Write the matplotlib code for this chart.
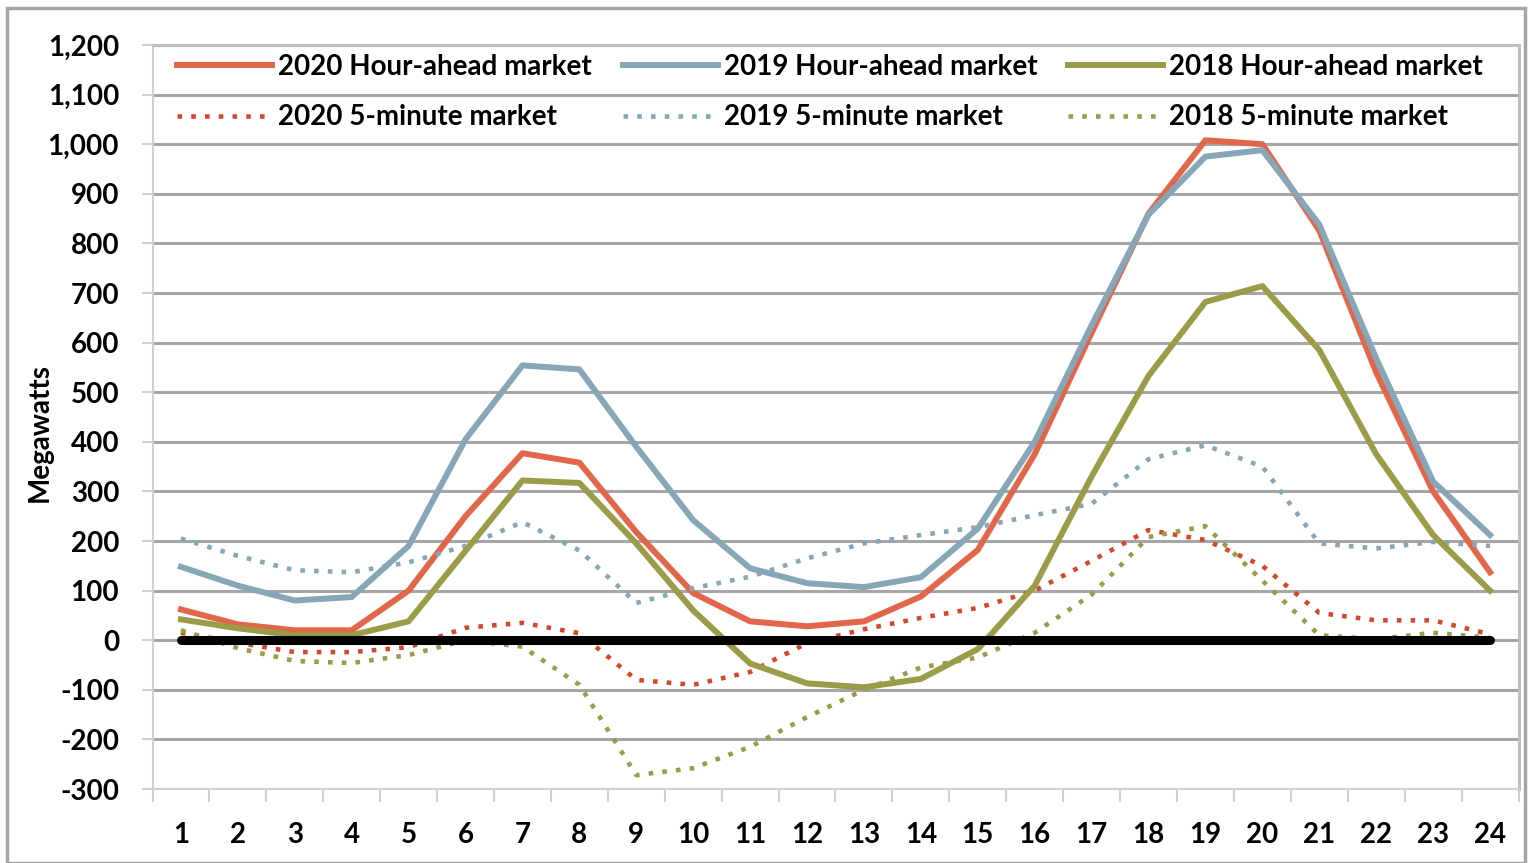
import numpy as np
import matplotlib.pyplot as plt
from matplotlib.patches import Rectangle
from matplotlib.ticker import FixedLocator, FuncFormatter

plt.rcParams['font.family'] = ['Lato', 'DejaVu Sans']

# 小时 1..24
hours = np.arange(1, 25)

# 日前（小时前）市场
ha_2020 = [62, 32, 20, 20, 100, 250, 377, 358, 218, 95, 38, 28, 38, 88, 182, 375, 620, 860, 1008, 1000, 826, 540, 300, 137]
ha_2019 = [148, 110, 80, 87, 190, 405, 554, 546, 390, 242, 145, 115, 107, 127, 225, 400, 635, 858, 975, 988, 838, 568, 320, 212]
ha_2018 = [42, 24, 10, 10, 38, 180, 322, 317, 195, 60, -47, -87, -95, -78, -18, 110, 330, 533, 682, 714, 585, 375, 212, 100]

# 5 分钟市场
fm_2020 = [15, -5, -24, -24, -14, 25, 35, 14, -80, -90, -64, -6, 22, 45, 65, 100, 160, 222, 202, 150, 55, 40, 40, 12]
fm_2019 = [205, 170, 141, 137, 157, 190, 238, 181, 75, 105, 128, 165, 195, 212, 228, 252, 275, 365, 393, 350, 195, 185, 198, 190]
fm_2018 = [20, -16, -42, -46, -30, 0, -13, -90, -272, -258, -215, -155, -100, -55, -35, 15, 92, 208, 230, 120, 10, 2, 15, 5]

zero_line = [0] * 24

c_red = '#E2674A'
c_red_dot = '#D4472A'
c_blue = '#87A6B8'
c_olive = '#9A9C48'

fig = plt.figure(figsize=(15.3, 8.63), dpi=100)
W, H = 1530, 863
ax = fig.add_axes([152.5 / W, 1 - 789 / H, (1518.5 - 152.5) / W, (789 - 45) / H])

lw = 4.3
dot = dict(linewidth=3.3, linestyle=(0, (1, 2.0)), dash_capstyle='butt')

ax.plot(hours, zero_line, color='black', linewidth=6.5, solid_capstyle='round', zorder=4)

l1, = ax.plot(hours, ha_2020, color=c_red, linewidth=lw, label='2020 Hour-ahead market', zorder=3)
l2, = ax.plot(hours, fm_2020, color=c_red_dot, label='2020 5-minute market', zorder=3, **dot)
l3, = ax.plot(hours, ha_2019, color=c_blue, linewidth=lw, label='2019 Hour-ahead market', zorder=3)
l4, = ax.plot(hours, fm_2019, color=c_blue, label='2019 5-minute market', zorder=3, **dot)
l5, = ax.plot(hours, ha_2018, color=c_olive, linewidth=lw, label='2018 Hour-ahead market', zorder=3)
l6, = ax.plot(hours, fm_2018, color=c_olive, label='2018 5-minute market', zorder=3, **dot)

ax.set_xlim(0.5, 24.5)
ax.set_ylim(-300, 1200)

ax.set_yticks(np.arange(-300, 1201, 100))
ax.yaxis.set_major_formatter(FuncFormatter(lambda v, p: f'{int(v):,}'))
ax.grid(axis='y', color='#A6A6A6', linewidth=2.2)
ax.set_axisbelow(True)

# 类别轴：刻度线在分界处，标签在中间
ax.xaxis.set_major_locator(FixedLocator(np.arange(0.5, 25, 1)))
ax.xaxis.set_minor_locator(FixedLocator(hours))
ax.xaxis.set_major_formatter(FuncFormatter(lambda v, p: ''))
ax.xaxis.set_minor_formatter(FuncFormatter(lambda v, p: f'{int(round(v))}'))
ax.tick_params(axis='x', which='major', length=9, width=1.5, color='#D0D0D0')
ax.tick_params(axis='x', which='minor', length=0, pad=24, labelsize=20)
ax.tick_params(axis='y', length=8, width=1.5, color='#D0D0D0', pad=16, labelsize=20)
for t in ax.get_xticklabels(minor=True) + ax.get_yticklabels():
    t.set_fontweight('bold')

for s in ['left', 'bottom']:
    ax.spines[s].set_color('#D0D0D0')
    ax.spines[s].set_linewidth(1.5)
for s in ['top', 'right']:
    ax.spines[s].set_color('#BFBFBF')
    ax.spines[s].set_linewidth(2.2)

fig.text(40 / W, 1 - 433 / H, 'Megawatts', rotation=90, ha='center', va='center',
         fontsize=20, fontweight='bold')

leg = ax.legend(handles=[l1, l2, l3, l4, l5, l6], ncol=3, loc='upper left',
                bbox_to_anchor=(0.018, 0.988), frameon=False,
                prop={'size': 20, 'weight': 'bold'},
                handlelength=3.42, handletextpad=0.22, columnspacing=1.1,
                labelspacing=0.88, borderaxespad=0, borderpad=0)

# 外框
fig.patches.append(Rectangle((7 / W, 0), (1525 - 7) / W, 1 - 8 / H, transform=fig.transFigure,
                             fill=False, edgecolor='#A6A6A6', linewidth=2.5))

fig.savefig('out.png', dpi=100)
